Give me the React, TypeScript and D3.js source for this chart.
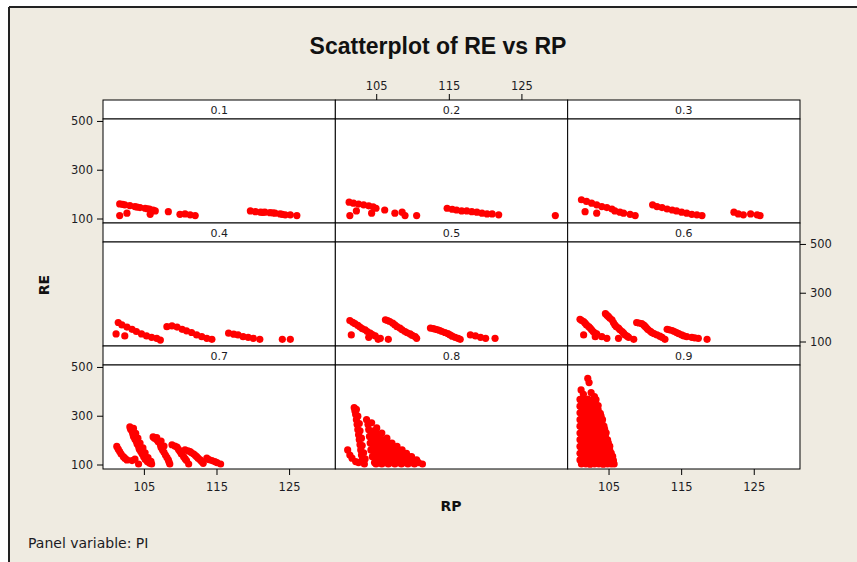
import * as React from 'react';
import * as d3 from 'd3';

// panel labels (PI)
const panelLabels = ['0.1', '0.2', '0.3', '0.4', '0.5', '0.6', '0.7', '0.8', '0.9'];
const xTicks = [105, 115, 125];
const yTicks = [100, 300, 500];

// [RP, RE], one array per panel
const pi01: [number, number][] = [
  [101.6, 162], [102.0, 160], [102.3, 158], [103.0, 155], [103.7, 151], [104.0, 149], [104.4, 147],
  [105.1, 144], [105.4, 142], [105.7, 141], [106.2, 137], [106.5, 133],
  [101.6, 114], [102.6, 124], [105.8, 119], [108.3, 130], [109.9, 119], [110.6, 121], [111.3, 117], [112.0, 114],
  [119.6, 133], [120.3, 130], [121.0, 128], [121.3, 127], [121.6, 128], [122.3, 126], [122.7, 125], [123.0, 124],
  [123.7, 121], [124.0, 119], [124.4, 117], [125.1, 117], [126.0, 114],
];
const pi02: [number, number][] = [
  [101.2, 169], [101.8, 165], [102.5, 161], [103.2, 158], [103.9, 154], [104.5, 150], [104.9, 144],
  [101.3, 114], [102.2, 133], [104.3, 124], [106.1, 137], [107.5, 124], [108.5, 128], [108.9, 114], [110.5, 114],
  [114.7, 144], [115.4, 140], [116.0, 137], [116.7, 133], [117.4, 133], [118.1, 130], [118.8, 128],
  [119.5, 124], [120.2, 121], [120.9, 121], [121.8, 117],
  [129.6, 114],
];
const pi03: [number, number][] = [
  [101.2, 179], [101.9, 172], [102.6, 165], [103.3, 158], [104.0, 151], [104.7, 147], [105.4, 141],
  [105.8, 133], [106.5, 128], [107.0, 124], [107.9, 119], [108.6, 114],
  [101.7, 130], [103.3, 124],
  [111.0, 158], [111.6, 151], [112.3, 147], [113.0, 141], [113.7, 137], [114.3, 133], [115.0, 128],
  [115.7, 124], [116.4, 119], [117.1, 117], [117.8, 114],
  [122.2, 128], [122.8, 121], [123.5, 117], [124.5, 121], [125.4, 117], [125.8, 114],
];
const pi04: [number, number][] = [
  [101.4, 180], [101.9, 170], [102.6, 161], [103.3, 152], [103.9, 143], [104.6, 133], [105.3, 125],
  [106.0, 119], [106.7, 115], [107.2, 108], [101.1, 133], [102.3, 125],
  [108.1, 163], [108.8, 166], [109.5, 161], [110.2, 152], [110.8, 146], [111.5, 139], [112.2, 129],
  [112.9, 122], [113.6, 115], [114.3, 111],
  [116.6, 136], [117.3, 132], [117.9, 129], [118.6, 122], [119.3, 119], [120.0, 115], [120.9, 111],
  [124.0, 111], [125.1, 111],
];
const pi05: [number, number][] = [
  [101.3, 188], [101.7, 181], [102.0, 175], [102.4, 168], [102.7, 161], [103.0, 155], [103.4, 150],
  [103.7, 143], [104.1, 136], [104.4, 130], [104.8, 125], [105.5, 115],
  [101.5, 129], [103.9, 119], [105.2, 111],
  [106.2, 191], [106.5, 188], [106.8, 184], [107.2, 177], [107.5, 170], [107.8, 163], [108.2, 157],
  [108.5, 150], [108.9, 143], [109.2, 138], [109.6, 133], [109.9, 127], [110.3, 122], [110.5, 115], [106.6, 111],
  [112.4, 157], [112.8, 155], [113.1, 152], [113.4, 150], [113.7, 147], [114.0, 143], [114.4, 139],
  [114.8, 134], [115.1, 129], [115.4, 124], [115.8, 119], [116.2, 115], [116.5, 111],
  [117.9, 129], [118.6, 125], [119.3, 119], [120.0, 115], [121.3, 115],
];
const pi06: [number, number][] = [
  [101.0, 193], [101.2, 189], [101.5, 184], [101.7, 177], [101.9, 170], [102.2, 163], [102.4, 157],
  [102.6, 150], [102.8, 143], [103.0, 138], [103.3, 133], [104.0, 122], [104.7, 115], [101.5, 129], [103.1, 122],
  [104.5, 216], [104.7, 210], [104.9, 205], [105.1, 198], [105.4, 191], [105.6, 180], [105.8, 170],
  [106.0, 163], [106.3, 157], [106.5, 150], [106.8, 143], [107.0, 136], [107.2, 129], [107.5, 124],
  [107.7, 119], [108.4, 111], [106.3, 115],
  [108.8, 180], [109.1, 178], [109.5, 175], [109.8, 169], [110.0, 163], [110.2, 156], [110.4, 150],
  [110.7, 144], [110.9, 139], [111.2, 134], [111.6, 129], [112.0, 124], [112.3, 119], [112.7, 111],
  [113.0, 152], [113.3, 150], [113.7, 147], [114.0, 143], [114.3, 139], [114.6, 134], [115.0, 129],
  [115.3, 125], [115.7, 122], [116.4, 119], [116.8, 117], [117.3, 115], [118.5, 111],
];
const pi07: [number, number][] = [
  [101.2, 176], [101.4, 165], [101.6, 155], [101.8, 145], [102.1, 134], [102.3, 128], [102.6, 121],
  [103.3, 118], [103.7, 124],
  [103.0, 256], [103.1, 247], [103.3, 238], [103.4, 228], [103.5, 217], [103.7, 206], [103.9, 196],
  [104.0, 186], [104.2, 176], [104.3, 165], [104.5, 155], [104.7, 145], [104.9, 134], [105.1, 124],
  [105.4, 114], [105.7, 108], [106.0, 104], [104.2, 104],
  [103.5, 250], [103.8, 230], [104.1, 210], [104.4, 190], [104.8, 170], [105.1, 150], [105.5, 130], [105.9, 115],
  [106.2, 215], [106.4, 210], [106.7, 204], [106.9, 195], [107.2, 183], [107.3, 172], [107.5, 162],
  [107.7, 152], [107.9, 141], [108.1, 131], [108.3, 121], [108.4, 112], [108.5, 104],
  [106.7, 212], [107.3, 198], [107.7, 178],
  [108.8, 183], [109.2, 178], [109.5, 173], [109.7, 164], [109.9, 155], [110.1, 145], [110.4, 134],
  [110.6, 126], [110.8, 118], [111.1, 104],
  [110.6, 162], [111.0, 158], [111.3, 155], [111.5, 150], [111.8, 145], [112.0, 140], [112.2, 134],
  [112.4, 128], [112.7, 121], [112.9, 114], [113.1, 107],
  [113.6, 128], [113.9, 122], [114.3, 118], [114.7, 114], [115.0, 110], [115.5, 104],
];
const pi08: [number, number][] = [
  [101.9, 335], [102.0, 321], [102.1, 307], [102.2, 286], [102.3, 266], [102.4, 245], [102.5, 224],
  [102.6, 204], [102.7, 183], [102.8, 162], [102.9, 141], [103.0, 121], [103.3, 104],
  [102.2, 328], [102.4, 300], [102.6, 270], [102.7, 240], [102.9, 210], [103.0, 180], [103.2, 150], [103.4, 125],
  [101.0, 162], [101.3, 141], [101.6, 128], [102.1, 114], [102.5, 110],
  [103.6, 286], [103.8, 266], [103.9, 245], [104.0, 217], [104.1, 190], [104.2, 162], [104.4, 134], [104.7, 110],
  [104.3, 273], [105.0, 252], [105.7, 231], [106.4, 210], [107.1, 190], [107.8, 176], [108.5, 162],
  [109.1, 148], [109.8, 134], [110.5, 121], [111.3, 104],
  [104.6, 240], [104.4, 228], [105.1, 228], [104.55, 217], [105.2, 217], [104.9, 204], [105.8, 204],
  [104.3, 197], [105.0, 197], [105.7, 197], [106.4, 197],
  [104.55, 190], [105.47, 190], [106.16, 190], [105.1, 176], [106.0, 176], [106.9, 176],
  [104.5, 169], [105.3, 169], [106.2, 169], [107.0, 169], [107.6, 169],
  [104.78, 162], [105.7, 162], [106.62, 162], [107.54, 162],
  [105.4, 148], [106.3, 148], [107.2, 148], [108.1, 148],
  [104.6, 141], [105.5, 141], [106.4, 141], [107.3, 141], [108.2, 141], [108.9, 141],
  [105.01, 134], [105.93, 134], [106.85, 134], [107.77, 134], [108.69, 134], [109.37, 134],
  [104.8, 127], [105.8, 127], [106.7, 127], [107.6, 127], [108.5, 127], [109.4, 127], [109.8, 127],
  [105.6, 121], [106.5, 121], [107.4, 121], [108.3, 121], [109.2, 121], [110.0, 121],
  [105.24, 110], [106.16, 110], [107.08, 110], [108.0, 110], [108.91, 110], [109.83, 110], [110.75, 110],
  [104.9, 104], [105.7, 104], [106.6, 104], [107.5, 104], [108.4, 104], [109.3, 104], [110.2, 104],
];
const pi09: [number, number][] = [
  [102.07, 455], [102.25, 438], [101.15, 408], [102.53, 397], [102.99, 380], [101.47, 390],
  [101.0, 369], [101.6, 367], [102.1, 370], [102.7, 366], [103.2, 368],
  [101.3, 355], [101.9, 354], [102.4, 356], [103.0, 355],
  [101.0, 341], [101.6, 343], [102.1, 340], [102.7, 342], [103.2, 339], [103.5, 344],
  [101.3, 328], [101.9, 327], [102.4, 329], [103.0, 328], [103.5, 327],
  [101.0, 314], [101.6, 312], [102.1, 315], [102.7, 313], [103.2, 316], [103.8, 312],
  [101.3, 300], [101.9, 301], [102.4, 299], [103.0, 300], [103.5, 302], [103.9, 300],
  [101.0, 286], [101.6, 288], [102.1, 285], [102.7, 287], [103.2, 284], [103.8, 288], [104.1, 286],
  [101.3, 272], [101.9, 273], [102.4, 271], [103.0, 272], [103.5, 274], [104.0, 272],
  [101.0, 259], [101.6, 257], [102.1, 260], [102.7, 258], [103.2, 261], [103.8, 257], [104.3, 259],
  [101.3, 245], [101.9, 244], [102.4, 246], [103.0, 245], [103.5, 243], [104.0, 245], [104.4, 246],
  [101.0, 231], [101.6, 233], [102.1, 230], [102.7, 232], [103.2, 229], [103.8, 233], [104.3, 230], [104.6, 232],
  [101.3, 218], [101.9, 217], [102.4, 219], [103.0, 218], [103.5, 216], [104.0, 218], [104.5, 219],
  [101.0, 204], [101.6, 202], [102.1, 205], [102.7, 203], [103.2, 206], [103.8, 202], [104.3, 204], [104.8, 203],
  [101.3, 190], [101.9, 191], [102.4, 189], [103.0, 190], [103.5, 192], [104.0, 190], [104.6, 189], [104.9, 191],
  [101.0, 176], [101.6, 178], [102.1, 175], [102.7, 177], [103.2, 174], [103.8, 178], [104.3, 176], [104.8, 175], [105.1, 177],
  [101.3, 162], [101.9, 161], [102.4, 163], [103.0, 162], [103.5, 160], [104.0, 162], [104.6, 163], [105.1, 161],
  [101.0, 148], [101.6, 146], [102.1, 149], [102.7, 147], [103.2, 150], [103.8, 146], [104.3, 148], [104.9, 147], [105.3, 149],
  [101.3, 135], [101.9, 136], [102.4, 134], [103.0, 135], [103.5, 137], [104.0, 135], [104.6, 134], [105.1, 136], [105.5, 135],
  [101.0, 121], [101.6, 123], [102.1, 120], [102.7, 122], [103.2, 119], [103.8, 123], [104.3, 121], [104.9, 120], [105.3, 122], [105.6, 119],
  [101.3, 112], [101.9, 111], [102.4, 113], [103.0, 112], [103.5, 110], [104.0, 112], [104.6, 113], [105.1, 111], [105.6, 112],
  [101.2, 104], [101.8, 105], [102.4, 103], [103.0, 104], [103.6, 105], [104.2, 103], [104.8, 104], [105.3, 105], [105.7, 104],
];
const panelData = [pi01, pi02, pi03, pi04, pi05, pi06, pi07, pi08, pi09];

const W = 857;
const H = 562;
const left = 103;
const top = 100;
const colW = 232.33;
const stripH = 19;
const plotH = 104;
const rowH = stripH + plotH;

const tickFont = "'DejaVu Sans', Verdana, sans-serif";
const textColor = '#1c1c24';

export default function App() {
  const x = d3.scaleLinear().domain([99.3, 131.3]).range([0, colW]);
  const y = d3.scaleLinear().domain([83.6, 510]).range([plotH, 0]);

  const panels = panelLabels.map((label, i) => {
    const col = i % 3;
    const row = Math.floor(i / 3);
    const x0 = left + col * colW;
    const y0 = top + row * rowH;
    return (
      <g key={label}>
        <rect x={x0} y={y0} width={colW} height={stripH} fill="#fff" stroke="#000" strokeWidth={1} />
        <text x={x0 + colW / 2} y={y0 + 14} textAnchor="middle" fontFamily={tickFont} fontSize={11} fill={textColor}>
          {label}
        </text>
        <rect x={x0} y={y0 + stripH} width={colW} height={plotH} fill="#fff" stroke="#000" strokeWidth={1} />
        <g transform={`translate(${x0},${y0 + stripH})`}>
          {panelData[i].map((d, j) => (
            <circle key={j} cx={x(d[0])} cy={y(d[1])} r={3.6} fill="#ff0000" />
          ))}
        </g>
      </g>
    );
  });

  const leftAxis = (row: number) => {
    const py = top + row * rowH + stripH;
    return yTicks.map((t) => (
      <g key={`l${row}-${t}`}>
        <line x1={left - 6} x2={left} y1={py + y(t)} y2={py + y(t)} stroke="#000" />
        <text x={left - 10} y={py + y(t)} dy="0.35em" textAnchor="end" fontFamily={tickFont} fontSize={11.5} fill={textColor}>
          {t}
        </text>
      </g>
    ));
  };
  const rightAxis = (row: number) => {
    const py = top + row * rowH + stripH;
    const rx = left + 3 * colW;
    return yTicks.map((t) => (
      <g key={`r${row}-${t}`}>
        <line x1={rx} x2={rx + 6} y1={py + y(t)} y2={py + y(t)} stroke="#000" />
        <text x={rx + 10} y={py + y(t)} dy="0.35em" textAnchor="start" fontFamily={tickFont} fontSize={11.5} fill={textColor}>
          {t}
        </text>
      </g>
    ));
  };
  const bottomAxis = (col: number) => {
    const px = left + col * colW;
    const by = top + 3 * rowH;
    return xTicks.map((t) => (
      <g key={`b${col}-${t}`}>
        <line x1={px + x(t)} x2={px + x(t)} y1={by} y2={by + 6} stroke="#000" />
        <text x={px + x(t)} y={by + 22} textAnchor="middle" fontFamily={tickFont} fontSize={11.5} fill={textColor}>
          {t}
        </text>
      </g>
    ));
  };
  const topAxis = (col: number) => {
    const px = left + col * colW;
    return xTicks.map((t) => (
      <g key={`t${col}-${t}`}>
        <line x1={px + x(t)} x2={px + x(t)} y1={top} y2={top - 6} stroke="#000" />
        <text x={px + x(t)} y={top - 10} textAnchor="middle" fontFamily={tickFont} fontSize={11.5} fill={textColor}>
          {t}
        </text>
      </g>
    ));
  };

  return (
    <div style={{ position: 'absolute', left: 0, top: 0 }}>
      <svg width={W} height={H} style={{ display: 'block' }}>
        <rect x={0} y={0} width={W} height={H} fill="#fff" />
        <rect x={9} y={7} width={W - 9} height={H - 7} fill="#efebe1" />
        <line x1={9} x2={W} y1={7} y2={7} stroke="#222" strokeWidth={2} />
        <line x1={9} x2={9} y1={7} y2={H} stroke="#222" strokeWidth={2} />
        <text x={438} y={54} textAnchor="middle" fontFamily="'Liberation Sans', Arial, sans-serif" fontWeight="bold" fontSize={23} fill="#111">
          Scatterplot of RE vs RP
        </text>
        {panels}
        {leftAxis(0)}
        {leftAxis(2)}
        {rightAxis(1)}
        {bottomAxis(0)}
        {bottomAxis(2)}
        {topAxis(1)}
        <text transform="translate(49,285) rotate(-90)" textAnchor="middle" fontFamily={tickFont} fontWeight="bold" fontSize={14} fill="#111">
          RE
        </text>
        <text x={451} y={511} textAnchor="middle" fontFamily={tickFont} fontWeight="bold" fontSize={14} fill="#111">
          RP
        </text>
        <text x={28} y={548} fontFamily={tickFont} fontSize={14} fill={textColor}>
          Panel variable: PI
        </text>
      </svg>
    </div>
  );
}
